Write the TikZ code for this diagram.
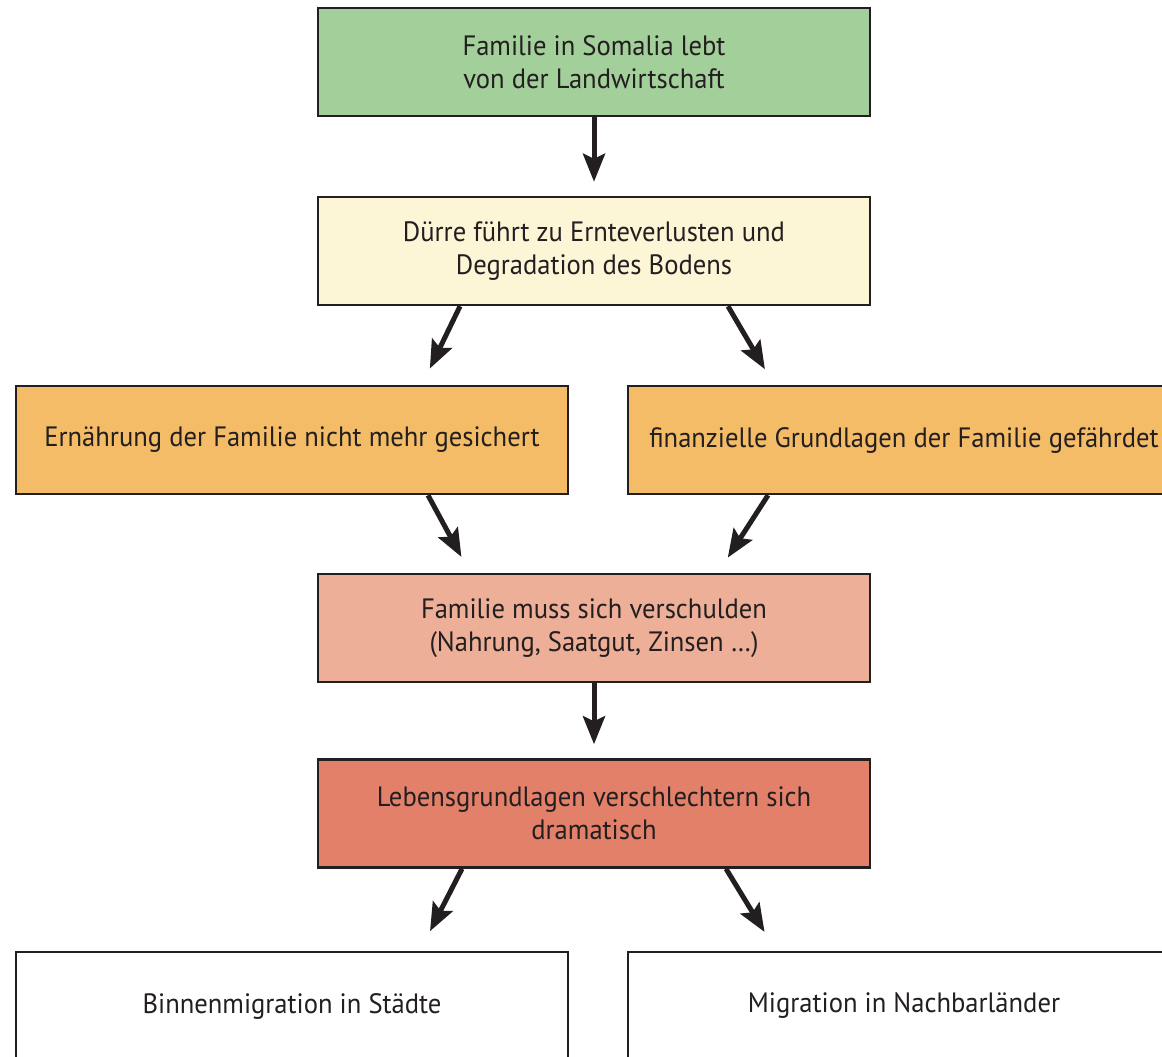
\documentclass[tikz,border=0pt]{standalone}
\usepackage{fontspec}
\setmainfont{PT Sans}[FakeStretch=0.95]
\usepackage{tikz}
\usetikzlibrary{arrows.meta}

\definecolor{boxgreen}{HTML}{A3CF9A}
\definecolor{boxyellow}{HTML}{FCF5D6}
\definecolor{boxorange}{HTML}{F4BC66}
\definecolor{boxpink}{HTML}{EDAF98}
\definecolor{boxred}{HTML}{E38069}
\definecolor{ink}{HTML}{231F20}

\begin{document}
\begin{tikzpicture}[x=1pt, y=1pt,
	box/.style={draw=ink, line width=2.5pt, minimum width=552pt, minimum height=108pt, inner sep=0, align=center, text=ink, font=\fontsize{28}{33}\selectfont},
	arr/.style={draw=ink, line width=5pt, -{Stealth[length=28pt, width=22pt, inset=5pt]}}
]
\useasboundingbox (0,0) rectangle (1162,-1057);
\clip (0,0) rectangle (1162,-1057);

\node[box, fill=boxgreen] (farm) at (594,-62) {Familie in Somalia lebt\\von der Landwirtschaft};
\node[box, fill=boxyellow] (drought) at (594,-251) {Dürre führt zu Ernteverlusten und\\Degradation des Bodens};
\node[box, fill=boxorange] (food) at (292,-440) {Ernährung der Familie nicht mehr gesichert};
\node[box, fill=boxorange] (money) at (904,-440) {finanzielle Grundlagen der Familie gefährdet};
\node[box, fill=boxpink] (debt) at (594,-628) {Familie muss sich verschulden\\(Nahrung, Saatgut, Zinsen \dots)};
\node[box, fill=boxred] (worse) at (594,-813.5) {Lebensgrundlagen verschlechtern sich\\dramatisch};
\node[box, fill=white] (city) at (292,-1006) {Binnenmigration in Städte};
\node[box, fill=white] (abroad) at (904,-1006) {Migration in Nachbarländer};

\draw[arr, shorten >=14pt] (farm.south) -- (drought.north);
\draw[arr, shorten >=18pt] ([xshift=-134pt]drought.south) -- ([xshift=130pt]food.north);
\draw[arr, shorten >=18pt] ([xshift=134pt]drought.south) -- ([xshift=-130pt]money.north);
\draw[arr, shorten >=18pt] ([xshift=136pt]food.south) -- ([xshift=-124pt]debt.north);
\draw[arr, shorten >=18pt] ([xshift=-136pt]money.south) -- ([xshift=124pt]debt.north);
\draw[arr, shorten >=14pt] (debt.south) -- (worse.north);
\draw[arr, shorten >=22pt] ([xshift=-132pt]worse.south) -- ([xshift=128pt]city.north);
\draw[arr, shorten >=22pt] ([xshift=132pt]worse.south) -- ([xshift=-128pt]abroad.north);
\end{tikzpicture}
\end{document}
